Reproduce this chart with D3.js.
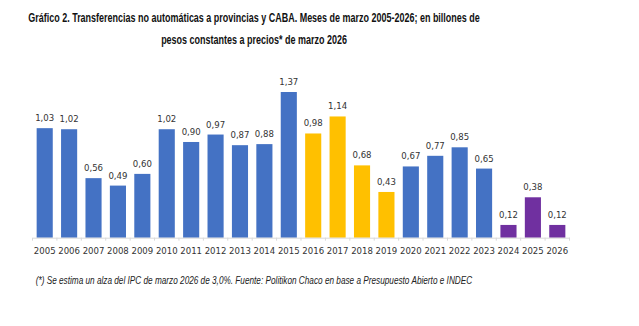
<!DOCTYPE html>
<html>
<head>
<meta charset="utf-8">
<script src="https://cdn.jsdelivr.net/npm/d3@7"></script>
<style>
  body { margin: 0; background: #fff; }
  svg { display: block; }
  .title { font-family: "Liberation Sans Narrow", "Liberation Sans", Arial, sans-serif; font-weight: bold; font-size: 12.5px; fill: #111; }
  .label, .year { font-family: "DejaVu Sans Condensed", "DejaVu Sans", sans-serif; font-stretch: condensed; font-size: 9.5px; fill: #333; }
  .note { font-family: "Liberation Sans Narrow", "Liberation Sans", Arial, sans-serif; font-style: italic; font-size: 10.5px; fill: #222; }
  .axis path, .axis line { stroke: #d9d9d9; }
</style>
</head>
<body>
<script>
(function(){

    //years and values, billions of constant pesos
    var years = ["2005","2006","2007","2008","2009","2010","2011","2012","2013","2014","2015",
                 "2016","2017","2018","2019","2020","2021","2022","2023","2024","2025","2026"];
    var values = [1.03, 1.02, 0.56, 0.49, 0.60, 1.02, 0.90, 0.97, 0.87, 0.88, 1.37,
                  0.98, 1.14, 0.68, 0.43, 0.67, 0.77, 0.85, 0.65, 0.12, 0.38, 0.12];
    //government period of each bar
    var periods = ["a","a","a","a","a","a","a","a","a","a","a",
                   "b","b","b","b","c","c","c","c","d","d","d"];
    var periodColors = {a: "#4472C4", b: "#FFC000", c: "#4472C4", d: "#7030A0"};

    var titleLines = ["Gráfico 2. Transferencias no automáticas a provincias y CABA. Meses de marzo 2005-2026; en billones de",
                      "pesos constantes a precios* de marzo 2026"];
    var note = "(*) Se estima un alza del IPC de marzo 2026 de 3,0%. Fuente: Politikon Chaco en base a Presupuesto Abierto e INDEC";

    var width = 639, height = 326;
    var left = 32.5, right = 569.5, baseY = 237.7, topY = 92;

    var svg = d3.select("body").append("svg")
        .attr("width", width)
        .attr("height", height);

    //squeeze a text horizontally so it spans the given width, anchored at (cx, cy)
    function narrow(sel, cx, cy, w, anchor){
        sel.attr("x", 0).attr("y", 0).attr("text-anchor", anchor);
        var natural = sel.node().getComputedTextLength();
        sel.attr("transform", "translate(" + cx + "," + cy + ") scale(" + (w / natural) + ",1)");
    }

    //title, two centred lines
    var titleWidths = [452, 186];
    titleLines.forEach(function(line, i){
        var t = svg.append("text")
            .attr("class", "title")
            .text(line);
        narrow(t, 254, 22 + i * 22, titleWidths[i], "middle");
    });

    //scales
    var x = d3.scaleBand()
        .domain(years)
        .range([left, right])
        .paddingInner(0.34)
        .paddingOuter(0.17);

    var y = d3.scaleLinear()
        .domain([0, 1.37])
        .range([baseY, topY]);

    //bars
    svg.selectAll(".bar")
        .data(values)
        .enter()
        .append("rect")
        .attr("class", "bar")
        .attr("x", function(d, i){ return x(years[i]); })
        .attr("width", x.bandwidth())
        .attr("y", function(d){ return y(d); })
        .attr("height", function(d){ return baseY - y(d); })
        .style("fill", function(d, i){ return periodColors[periods[i]]; });

    //value labels with decimal comma
    var fmt = function(v){ return d3.format(".2f")(v).replace(".", ","); };
    svg.selectAll(".label")
        .data(values)
        .enter()
        .append("text")
        .attr("class", "label")
        .attr("text-anchor", "middle")
        .attr("x", function(d, i){ return x(years[i]) + x.bandwidth() / 2; })
        .attr("y", function(d){ return y(d) - 7; })
        .text(fmt);

    //x axis
    var axis = svg.append("g")
        .attr("class", "axis")
        .attr("transform", "translate(0," + baseY + ")")
        .call(d3.axisBottom(x).tickSize(0).tickSizeOuter(0));
    axis.selectAll("text").remove();
    axis.selectAll(".tick").append("line")
        .attr("x1", x.step() / 2).attr("x2", x.step() / 2)
        .attr("y1", 0).attr("y2", 3);
    axis.append("line").attr("x1", left).attr("x2", left).attr("y1", 0).attr("y2", 3);

    svg.selectAll(".year")
        .data(years)
        .enter()
        .append("text")
        .attr("class", "year")
        .attr("text-anchor", "middle")
        .attr("x", function(d){ return x(d) + x.bandwidth() / 2; })
        .attr("y", 253.5)
        .text(function(d){ return d; });

    //footnote
    var foot = svg.append("text")
        .attr("class", "note")
        .text(note);
    narrow(foot, 35.7, 283.5, 437, "start");

})();
</script>
</body>
</html>
